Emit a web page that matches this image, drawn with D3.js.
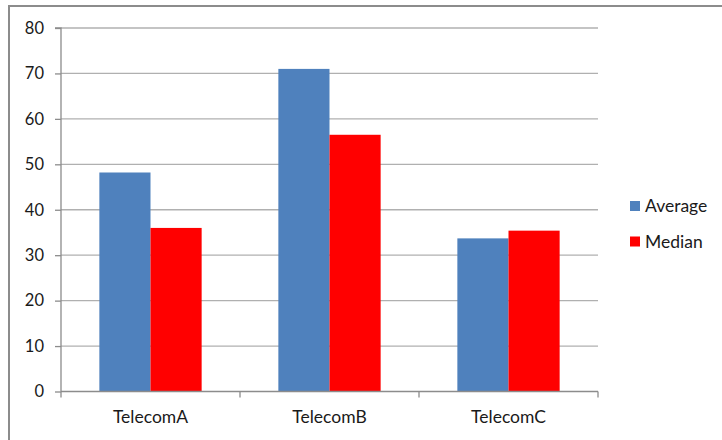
<!DOCTYPE html>
<html><head><meta charset="utf-8">
<script src="https://cdn.jsdelivr.net/npm/d3@7"></script>
<style>body{margin:0;background:#fff}svg{display:block}text{font-family:Lato,"Open Sans",sans-serif;fill:#1a1a1a}</style>
</head><body><svg id="c" width="722" height="440"></svg>
<script>
const categories = ["TelecomA","TelecomB","TelecomC"];
const seriesNames = ["Average","Median"];
const averageValues = [48.2, 71.0, 33.7];
const medianValues = [36.0, 56.5, 35.4];
const yTicks = [0,10,20,30,40,50,60,70,80];
const colors = ["#4F81BD","#FF0000"];

const svg = d3.select("#c");
svg.append("rect").attr("x",9).attr("y",6).attr("width",760).attr("height",480)
  .attr("fill","#fff").attr("stroke","#8c8c8c").attr("stroke-width",2);

const L=61,R=598,T=28,B=391.5;
const x = d3.scaleBand().domain(categories).range([L,R]);
const barW = x.bandwidth()/3.5;
const y = d3.scaleLinear().domain([0,80]).range([B,T]);

// gridlines
svg.append("g").selectAll("line").data(yTicks.filter(d=>d>0)).join("line")
  .attr("x1",L).attr("x2",R).attr("y1",d=>y(d)).attr("y2",d=>y(d))
  .attr("stroke","#b0b0b0").attr("stroke-width",1.3);

const data = categories.map((c,i)=>({c, vals:[averageValues[i],medianValues[i]]}));
const g = svg.append("g");
data.forEach(d=>{
  d.vals.forEach((v,j)=>{
    const cx = x(d.c)+x.bandwidth()/2;
    g.append("rect").attr("x",cx-barW+j*barW).attr("width",barW)
      .attr("y",y(v)).attr("height",y(0)-y(v)).attr("fill",colors[j]);
  });
});

// y axis
const ya = svg.append("g").attr("transform",`translate(${L},0)`)
  .call(d3.axisLeft(y).tickValues(yTicks).tickSize(6).tickPadding(11).tickFormat(d3.format("d")));
ya.select(".domain").attr("stroke","#8c8c8c").attr("stroke-width",1.3).attr("d",`M-6,${T}H0V${B}`);
ya.selectAll(".tick line").attr("stroke","#8c8c8c").attr("stroke-width",1.3);
ya.selectAll("text").attr("font-size",16.5).attr("font-family","Lato").attr("fill","#1a1a1a");

// x axis
const xa = svg.append("g").attr("transform",`translate(0,${B})`);
xa.append("line").attr("x1",L).attr("x2",R).attr("stroke","#8c8c8c").attr("stroke-width",1.3);
const bounds = categories.map(c=>x(c)).concat([R]);
xa.selectAll(".tk").data(bounds).join("line").attr("x1",d=>d).attr("x2",d=>d).attr("y1",0).attr("y2",6)
  .attr("stroke","#8c8c8c").attr("stroke-width",1.3);
xa.selectAll(".lb").data(categories).join("text").attr("x",d=>x(d)+x.bandwidth()/2).attr("y",31.5)
  .attr("text-anchor","middle").attr("font-size",17.5).text(d=>d);

// legend
const lg = svg.append("g");
seriesNames.forEach((s,i)=>{
  const yy = 201 + i*35.5;
  lg.append("rect").attr("x",630).attr("y",yy).attr("width",10).attr("height",10).attr("fill",colors[i]);
  lg.append("text").attr("x",645).attr("y",yy+11).attr("font-size",17.5).text(s);
});
</script></body></html>
